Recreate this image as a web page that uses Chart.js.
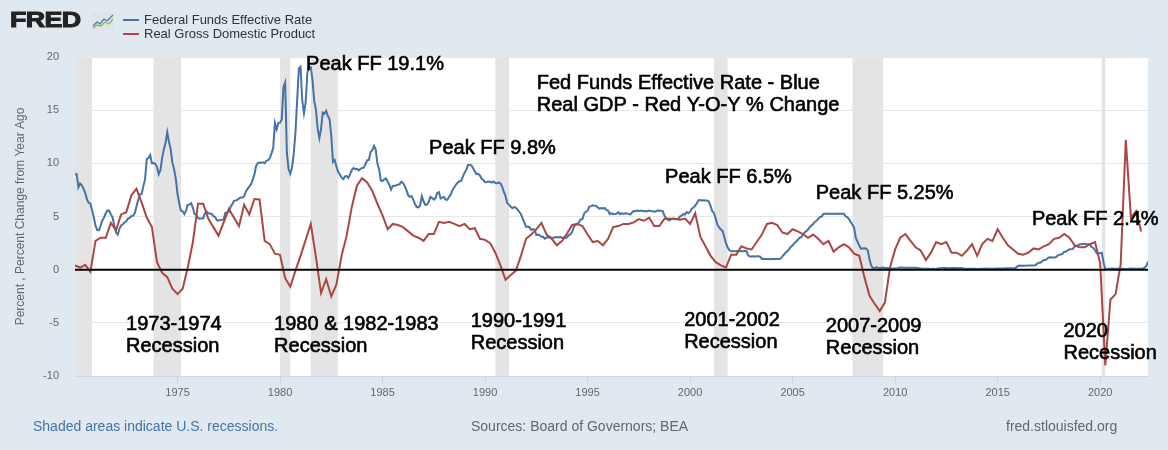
<!DOCTYPE html>
<html>
<head>
<meta charset="utf-8">
<script src="https://cdn.jsdelivr.net/npm/chart.js@4.4.0/dist/chart.umd.min.js"></script>
<style>
  html, body { margin: 0; padding: 0; }
  body {
    width: 1168px; height: 450px; overflow: hidden; position: relative;
    background: #e1e9f0; font-family: "Liberation Sans", Arial, sans-serif;
  }
  #chart { position: absolute; left: 0; top: 0; }
  .logo {
    position: absolute; left: 10px; top: 9px; font-size: 22px; line-height: 22px;
    font-weight: bold; color: #222; transform: scaleX(1.22); transform-origin: left top;
    -webkit-text-stroke: 1px #222; letter-spacing: -0.5px;
  }
  .icon { position: absolute; left: 92px; top: 13px; }
  .key { position: absolute; left: 123px; width: 16px; height: 2px; }
  .keytext { position: absolute; left: 144px; font-size: 13px; line-height: 15px; color: #333; white-space: nowrap; }
  .foot { position: absolute; top: 418px; font-size: 14px; line-height: 16px; color: #666; white-space: nowrap; }
</style>
</head>
<body>
<canvas id="chart" width="1168" height="450"></canvas>
<div class="logo">FRED</div>
<svg class="icon" width="22" height="17" viewBox="0 0 22 17">
  <rect x="0" y="0" width="22" height="17" fill="#dfe4ea"/>
  <polyline points="1,13 5,9 8,11 12,6 15,8 21,2" fill="none" stroke="#4a7ab5" stroke-width="1.3"/>
  <polyline points="1,15 5,12 9,13 13,9 17,11 21,6" fill="none" stroke="#8fba4a" stroke-width="1.3"/>
</svg>
<div class="key" style="top:19px;background:#4572a7"></div>
<div class="keytext" style="top:12px">Federal Funds Effective Rate</div>
<div class="key" style="top:33px;background:#aa4643"></div>
<div class="keytext" style="top:26px">Real Gross Domestic Product</div>
<div class="foot" style="left:33px;color:#4572a7">Shaded areas indicate U.S. recessions.</div>
<div class="foot" style="left:471px">Sources: Board of Governors; BEA</div>
<div class="foot" style="left:1006px">fred.stlouisfed.org</div>
<script>
// Federal funds effective rate, monthly, starting Jan 1970
const ff1970s = [
  8.98, 8.98, 7.76, 8.10, 7.94, 7.60, 7.21, 6.61, 6.29, 6.20, 5.60, 4.90,
  4.14, 3.72, 3.71, 4.15, 4.63, 4.91, 5.31, 5.57, 5.55, 5.20, 4.91, 4.14,
  3.50, 3.29, 3.83, 4.17, 4.27, 4.46, 4.55, 4.80, 4.87, 5.04, 5.06, 5.33,
  5.94, 6.58, 7.09, 7.12, 7.84, 8.49, 10.40, 10.50, 10.78, 10.01, 10.03, 9.95,
  9.65, 8.97, 9.35, 10.51, 11.31, 11.93, 12.92, 12.01, 11.34, 10.06, 9.45, 8.53,
  7.13, 6.24, 5.54, 5.49, 5.22, 5.55, 6.10, 6.14, 6.24, 5.82, 5.22, 5.20,
  4.87, 4.77, 4.84, 4.82, 5.29, 5.48, 5.31, 5.29, 5.25, 5.03, 4.95, 4.65,
  4.61, 4.68, 4.69, 4.73, 5.35, 5.39, 5.42, 5.90, 6.14, 6.47, 6.51, 6.56,
  6.70, 6.78, 6.79, 6.89, 7.36, 7.60, 7.81, 8.04, 8.45, 8.96, 9.76, 10.03,
  10.07, 10.06, 10.09, 10.01, 10.24, 10.29, 10.47, 10.94, 11.43, 13.77, 13.18, 13.78,
];
const ff1980s = [
  13.82, 14.13, 17.19, 17.61, 10.98, 9.47, 9.03, 9.61, 10.87, 12.81, 15.85, 18.90,
  19.08, 15.93, 14.70, 15.72, 18.52, 19.10, 19.04, 17.82, 15.87, 15.08, 13.31, 12.37,
  13.22, 14.78, 14.68, 14.94, 14.45, 14.15, 12.59, 10.12, 10.31, 9.71, 9.20, 8.95,
  8.68, 8.51, 8.77, 8.80, 8.63, 8.98, 9.37, 9.56, 9.45, 9.48, 9.34, 9.47,
  9.56, 9.59, 9.91, 10.29, 10.32, 11.06, 11.23, 11.64, 11.30, 9.99, 9.43, 8.38,
  8.35, 8.50, 8.58, 8.27, 7.97, 7.53, 7.88, 7.90, 7.92, 7.99, 8.05, 8.27,
  8.14, 7.86, 7.48, 6.99, 6.85, 6.92, 6.56, 6.17, 5.89, 5.85, 6.04, 6.91,
  6.43, 6.10, 6.13, 6.37, 6.85, 6.73, 6.58, 6.73, 7.22, 7.29, 6.69, 6.77,
  6.83, 6.58, 6.58, 6.87, 7.09, 7.51, 7.75, 8.01, 8.19, 8.30, 8.35, 8.76,
  9.12, 9.36, 9.85, 9.84, 9.81, 9.53, 9.24, 8.99, 9.02, 8.84, 8.55, 8.45,
];
const ff1990s = [
  8.23, 8.24, 8.28, 8.26, 8.18, 8.29, 8.15, 8.13, 8.20, 8.11, 7.81, 7.31,
  6.91, 6.25, 6.12, 5.91, 5.78, 5.90, 5.82, 5.66, 5.45, 5.21, 4.81, 4.43,
  4.03, 4.06, 3.98, 3.73, 3.82, 3.76, 3.25, 3.30, 3.22, 3.10, 3.09, 2.92,
  3.02, 3.03, 3.07, 2.96, 3.00, 3.04, 3.06, 3.03, 3.09, 2.99, 3.02, 2.96,
  3.05, 3.25, 3.34, 3.56, 4.01, 4.25, 4.26, 4.47, 4.73, 4.76, 5.29, 5.45,
  5.53, 5.92, 5.98, 6.05, 6.01, 6.00, 5.85, 5.74, 5.80, 5.76, 5.80, 5.60,
  5.56, 5.22, 5.31, 5.22, 5.24, 5.27, 5.40, 5.22, 5.30, 5.24, 5.31, 5.29,
  5.25, 5.19, 5.39, 5.51, 5.50, 5.56, 5.52, 5.54, 5.54, 5.50, 5.52, 5.50,
  5.56, 5.51, 5.49, 5.45, 5.49, 5.56, 5.54, 5.55, 5.51, 5.07, 4.83, 4.68,
  4.63, 4.76, 4.81, 4.74, 4.74, 4.76, 4.99, 5.07, 5.22, 5.20, 5.42, 5.30,
];
const ff2000s = [
  5.45, 5.73, 5.85, 6.02, 6.27, 6.53, 6.54, 6.50, 6.52, 6.51, 6.51, 6.40,
  5.98, 5.49, 5.31, 4.80, 4.21, 3.97, 3.77, 3.65, 3.07, 2.49, 2.09, 1.82,
  1.73, 1.74, 1.73, 1.75, 1.75, 1.75, 1.73, 1.74, 1.75, 1.75, 1.34, 1.24,
  1.24, 1.26, 1.25, 1.26, 1.26, 1.22, 1.01, 1.03, 1.01, 1.01, 1.00, 0.98,
  1.00, 1.01, 1.00, 1.00, 1.00, 1.03, 1.26, 1.43, 1.61, 1.76, 1.93, 2.16,
  2.28, 2.50, 2.63, 2.79, 3.00, 3.04, 3.26, 3.50, 3.62, 3.78, 4.00, 4.16,
  4.29, 4.49, 4.59, 4.79, 4.94, 4.99, 5.24, 5.25, 5.25, 5.25, 5.25, 5.24,
  5.25, 5.26, 5.26, 5.25, 5.25, 5.25, 5.26, 5.02, 4.94, 4.76, 4.49, 4.24,
  3.94, 2.98, 2.61, 2.28, 1.98, 2.00, 2.01, 2.00, 1.81, 0.97, 0.39, 0.16,
  0.15, 0.22, 0.18, 0.15, 0.18, 0.21, 0.16, 0.16, 0.15, 0.12, 0.12, 0.12,
];
const ff2010s = [
  0.11, 0.13, 0.16, 0.20, 0.20, 0.18, 0.18, 0.19, 0.19, 0.19, 0.19, 0.18,
  0.17, 0.16, 0.14, 0.10, 0.09, 0.09, 0.07, 0.10, 0.08, 0.07, 0.08, 0.07,
  0.08, 0.10, 0.13, 0.14, 0.16, 0.16, 0.16, 0.13, 0.14, 0.16, 0.16, 0.16,
  0.14, 0.15, 0.14, 0.15, 0.11, 0.09, 0.09, 0.08, 0.08, 0.09, 0.08, 0.09,
  0.07, 0.07, 0.08, 0.09, 0.09, 0.10, 0.09, 0.09, 0.09, 0.09, 0.09, 0.12,
  0.11, 0.11, 0.11, 0.12, 0.12, 0.13, 0.13, 0.14, 0.14, 0.12, 0.12, 0.24,
  0.34, 0.38, 0.36, 0.37, 0.37, 0.38, 0.39, 0.40, 0.40, 0.40, 0.41, 0.54,
  0.65, 0.66, 0.79, 0.90, 0.91, 1.04, 1.15, 1.16, 1.15, 1.15, 1.16, 1.30,
  1.41, 1.42, 1.51, 1.69, 1.70, 1.82, 1.91, 1.91, 1.95, 2.19, 2.20, 2.27,
  2.40, 2.40, 2.41, 2.42, 2.39, 2.38, 2.40, 2.13, 2.04, 1.83, 1.55, 1.55,
];
const ff2020s = [
  1.55, 1.58, 0.65, 0.05, 0.05, 0.08, 0.09, 0.10, 0.09, 0.09, 0.09, 0.09,
  0.09, 0.08, 0.07, 0.07, 0.06, 0.08, 0.10, 0.09, 0.08, 0.08, 0.08, 0.08,
  0.08, 0.08, 0.20, 0.33, 0.77,
];

// Real GDP, percent change from year ago, quarterly, starting 1970 Q1
const gdpYoY = [
  0.4, 0.2, 0.45, -0.2,   2.7, 3.0, 3.0, 4.4,   3.7, 5.2, 5.4, 7.0,
  7.6, 6.3, 4.9, 4.0,     0.7, -0.3, -0.7, -1.8, -2.3, -1.8, 0.2, 2.6,
  6.2, 6.2, 4.8, 4.0,     3.2, 4.45, 5.7, 4.9,  4.1, 6.1, 5.2, 6.65,
  6.6, 2.7, 2.4, 1.5,     1.4, -0.8, -1.6, -0.1, 1.3, 2.8, 4.3, 1.2,
  -2.2, -0.9, -2.5, -1.4, 1.3, 3.2, 5.9, 7.9,   8.6, 8.2, 7.4, 6.2,
  5.1, 3.8, 4.3, 4.2,     4.0, 3.6, 3.2, 3.0,   2.7, 3.35, 3.35, 4.5,
  4.4, 4.5, 4.3, 4.1,     4.3, 3.8, 3.9, 2.9,   2.8, 2.5, 1.6, 0.4,
  -0.95, -0.5, -0.1, 1.3, 2.9, 3.3, 3.8, 4.4,   3.3, 2.9, 2.3, 2.7,
  3.4, 4.2, 4.3, 4.1,     3.3, 2.6, 2.7, 2.3,   2.9, 4.0, 4.1, 4.3,
  4.3, 4.45, 4.75, 4.6,   4.9, 4.1, 4.1, 4.8,   4.8, 4.8, 4.7, 4.8,
  4.3, 5.3, 3.1, 2.2,     1.3, 0.7, 0.4, 0.2,   1.4, 1.4, 2.2, 2.0,
  1.9, 2.6, 3.3, 4.3,     4.4, 4.2, 3.5, 3.35,  3.8, 3.6, 3.35, 3.0,
  3.3, 2.9, 2.4, 2.7,     1.7, 2.1, 2.4, 2.1,   1.5, 1.3, -0.7, -2.45,
  -3.2, -3.9, -3.1, 0.2,  1.9, 3.0, 3.35, 2.7,  2.1, 1.8, 0.9, 1.6,
  2.6, 2.4, 2.6, 1.6,     1.6, 1.3, 1.8, 2.4,   1.3, 2.4, 2.9, 2.7,
  3.8, 3.0, 2.3, 1.9,     1.5, 1.4, 1.6, 2.0,   1.9, 2.2, 2.4, 2.9,
  3.0, 3.35, 3.0, 2.3,    2.1, 2.1, 2.4, 2.6,   0.6, -9.0, -2.8, -2.3,
  0.5, 12.2, 4.9, 5.5,    3.6,
];

// NBER recessions as [start, end] in decimal years
const recessions = [
  [1969.92, 1970.83], [1973.83, 1975.17], [1980.0, 1980.5], [1981.5, 1982.83],
  [1990.5, 1991.17], [2001.17, 2001.83], [2007.92, 2009.42], [2020.08, 2020.25],
];

const xTicks = [1975, 1980, 1985, 1990, 1995, 2000, 2005, 2010, 2015, 2020];
const yTicks = [-10, -5, 0, 5, 10, 15, 20];

const ffRate = [...ff1970s, ...ff1980s, ...ff1990s, ...ff2000s, ...ff2010s, ...ff2020s];
const ffPoints = ffRate.map((v, i) => ({ x: 1970 + i / 12, y: v }));
const gdpPoints = gdpYoY.map((v, i) => ({ x: 1970 + i / 4, y: v }));

// text notes, anchored in data units (year, value of first baseline)
const notes = [
  { lines: ['Peak FF 19.1%'], x: 1981.27, y: 18.8 },
  { lines: ['Fed Funds Effective Rate - Blue', 'Real GDP - Red Y-O-Y % Change'], x: 1992.52, y: 17.0 },
  { lines: ['Peak FF 9.8%'], x: 1987.27, y: 10.9 },
  { lines: ['Peak FF 6.5%'], x: 1998.78, y: 8.14 },
  { lines: ['Peak FF 5.25%'], x: 2006.13, y: 6.68 },
  { lines: ['Peak FF 2.4%'], x: 2016.67, y: 4.23 },
  { lines: ['1973-1974', 'Recession'], x: 1972.49, y: -5.69 },
  { lines: ['1980 & 1982-1983', 'Recession'], x: 1979.71, y: -5.69 },
  { lines: ['1990-1991', 'Recession'], x: 1989.3, y: -5.36 },
  { lines: ['2001-2002', 'Recession'], x: 1999.71, y: -5.31 },
  { lines: ['2007-2009', 'Recession'], x: 2006.62, y: -5.83 },
  { lines: ['2020', 'Recession'], x: 2018.21, y: -6.3 },
];

const plotBackground = {
  id: 'plotBackground',
  beforeDraw(chart) {
    const { ctx, chartArea: a, scales: { x } } = chart;
    ctx.save();
    ctx.fillStyle = '#ffffff';
    ctx.fillRect(a.left, a.top, a.right - a.left, a.bottom - a.top);
    ctx.fillStyle = '#e4e4e4';
    recessions.forEach(([s, e]) => {
      const x0 = Math.max(x.getPixelForValue(s), a.left);
      const x1 = Math.min(x.getPixelForValue(e), a.right);
      ctx.fillRect(x0, a.top, x1 - x0, a.bottom - a.top);
    });
    ctx.restore();
  },
};

const overlay = {
  id: 'overlay',
  afterDatasetsDraw(chart) {
    const { ctx, chartArea: a, scales: { x, y } } = chart;
    ctx.save();
    const y0 = y.getPixelForValue(0);
    ctx.strokeStyle = '#000';
    ctx.lineWidth = 2;
    ctx.beginPath();
    ctx.moveTo(a.left, y0);
    ctx.lineTo(a.right, y0);
    ctx.stroke();

    ctx.font = '20px "Liberation Sans", Arial, sans-serif';
    ctx.fillStyle = '#000';
    ctx.strokeStyle = '#000';
    ctx.lineWidth = 0.6;
    ctx.textBaseline = 'alphabetic';
    notes.forEach((n) => {
      const px = x.getPixelForValue(n.x);
      const py = y.getPixelForValue(n.y);
      n.lines.forEach((t, i) => {
        ctx.fillText(t, px, py + i * 22);
        ctx.strokeText(t, px, py + i * 22);
      });
    });
    ctx.restore();
  },
};

new Chart(document.getElementById('chart'), {
  type: 'line',
  data: {
    datasets: [
      { label: 'Federal Funds Effective Rate', data: ffPoints, borderColor: '#4572a7', borderWidth: 2, pointRadius: 0, order: 1 },
      { label: 'Real Gross Domestic Product', data: gdpPoints, borderColor: '#aa4643', borderWidth: 2, pointRadius: 0, order: 0 },
    ],
  },
  options: {
    responsive: false,
    animation: false,
    devicePixelRatio: 1,
    layout: { padding: { top: 57, right: 20, bottom: 0, left: 0 } },
    plugins: { legend: { display: false }, tooltip: { enabled: false } },
    scales: {
      x: {
        type: 'linear',
        min: 1970,
        max: 1970 + (ffRate.length - 1) / 12,
        afterBuildTicks: (axis) => { axis.ticks = xTicks.map((v) => ({ value: v })); },
        afterFit: (axis) => { axis.height = 74; },
        ticks: { callback: (v) => String(v), color: '#666', font: { size: 11 }, padding: 2, maxRotation: 0, autoSkip: false },
        grid: { drawOnChartArea: false, drawTicks: true, tickLength: 8, color: '#ccd6eb' },
        border: { display: true, color: '#ccd6eb', width: 1 },
      },
      y: {
        min: -10,
        max: 20,
        afterBuildTicks: (axis) => { axis.ticks = yTicks.map((v) => ({ value: v })); },
        afterFit: (axis) => { axis.width = 75; },
        ticks: { callback: (v) => String(v), color: '#666', font: { size: 11 }, padding: 16 },
        grid: { color: '#e6e6e6', drawTicks: false },
        border: { display: false },
        title: {
          display: true,
          text: 'Percent , Percent Change from Year Ago',
          color: '#666',
          font: { size: 12 },
          padding: { top: 13, bottom: 0 },
        },
      },
    },
  },
  plugins: [plotBackground, overlay],
});
</script>
</body>
</html>
